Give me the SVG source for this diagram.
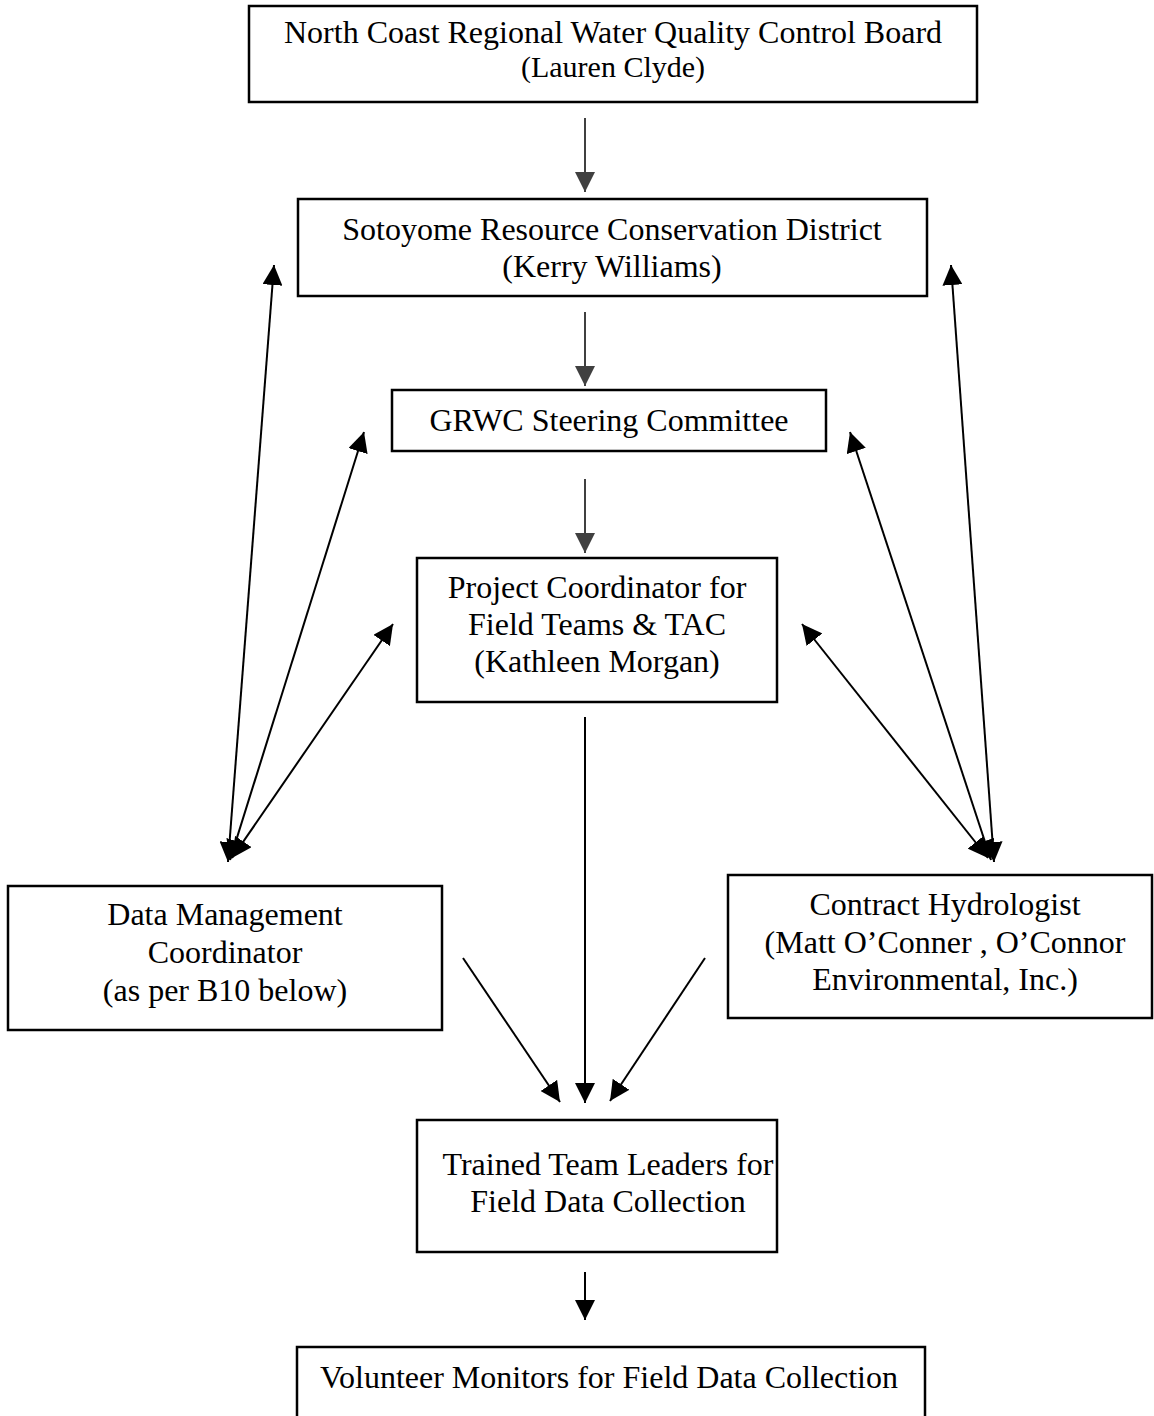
<svg xmlns="http://www.w3.org/2000/svg" width="1154" height="1416" viewBox="0 0 1154 1416">
<defs>
<style>
.box{fill:#fff;stroke:#000;stroke-width:2.5}
.t{font-family:"Liberation Serif","Times New Roman",serif;font-size:32px;fill:#000;text-anchor:middle}
.s{font-size:30px}
.c{stroke:#000;stroke-width:2;fill:none}
.g{stroke:#404040;stroke-width:2;fill:none}
</style>
<marker id="ah" viewBox="0 0 20 20" refX="20" refY="10" markerWidth="20" markerHeight="20" markerUnits="userSpaceOnUse" orient="auto-start-reverse"><path d="M0,0 L20,10 L0,20 z" fill="#000"/></marker>
<marker id="ahg" viewBox="0 0 20 20" refX="20" refY="10" markerWidth="20" markerHeight="20" markerUnits="userSpaceOnUse" orient="auto"><path d="M0,0 L20,10 L0,20 z" fill="#404040"/></marker>
</defs>
<rect width="1154" height="1416" fill="#fff"/>
<g id="connectors">
<line class="g" x1="585" y1="118" x2="585" y2="192" marker-end="url(#ahg)"/>
<line class="g" x1="585" y1="312" x2="585" y2="386" marker-end="url(#ahg)"/>
<line class="g" x1="585" y1="479" x2="585" y2="553" marker-end="url(#ahg)"/>
<line class="c" x1="228" y1="862" x2="274" y2="265" marker-start="url(#ah)" marker-end="url(#ah)"/>
<line class="c" x1="230" y1="860" x2="364" y2="432" marker-start="url(#ah)" marker-end="url(#ah)"/>
<line class="c" x1="232" y1="858" x2="393" y2="624" marker-start="url(#ah)" marker-end="url(#ah)"/>
<line class="c" x1="994" y1="862" x2="951" y2="265" marker-start="url(#ah)" marker-end="url(#ah)"/>
<line class="c" x1="991" y1="860" x2="850" y2="432" marker-start="url(#ah)" marker-end="url(#ah)"/>
<line class="c" x1="988" y1="858" x2="802" y2="624" marker-start="url(#ah)" marker-end="url(#ah)"/>
<line class="c" x1="585" y1="717" x2="585" y2="1103" marker-end="url(#ah)"/>
<line class="c" x1="463" y1="958" x2="560" y2="1102" marker-end="url(#ah)"/>
<line class="c" x1="705" y1="958" x2="610" y2="1101" marker-end="url(#ah)"/>
<line class="c" x1="585" y1="1272" x2="585" y2="1320" marker-end="url(#ah)"/>
</g>
<g id="ncrwqcb">
<rect class="box" x="249" y="6" width="728" height="96"/>
<text class="t" x="613" y="43">North Coast Regional Water Quality Control Board</text>
<text class="t s" x="613" y="77">(Lauren Clyde)</text>
</g>
<g id="sotoyome">
<rect class="box" x="298" y="199" width="629" height="97"/>
<text class="t" x="612" y="240">Sotoyome Resource Conservation District</text>
<text class="t" x="612" y="277">(Kerry Williams)</text>
</g>
<g id="grwc">
<rect class="box" x="392" y="390" width="434" height="61"/>
<text class="t" x="609" y="431">GRWC Steering Committee</text>
</g>
<g id="project-coordinator">
<rect class="box" x="417" y="558" width="360" height="144"/>
<text class="t" x="597" y="598">Project Coordinator for</text>
<text class="t" x="597" y="635">Field Teams &amp; TAC</text>
<text class="t" x="597" y="672">(Kathleen Morgan)</text>
</g>
<g id="data-management">
<rect class="box" x="8" y="886" width="434" height="144"/>
<text class="t" x="225" y="925">Data Management</text>
<text class="t" x="225" y="963">Coordinator</text>
<text class="t" x="225" y="1001">(as per B10 below)</text>
</g>
<g id="hydrologist">
<rect class="box" x="728" y="875" width="424" height="143"/>
<text class="t" x="945" y="915">Contract Hydrologist</text>
<text class="t" x="945" y="953">(Matt O’Conner , O’Connor</text>
<text class="t" x="945" y="990">Environmental, Inc.)</text>
</g>
<g id="team-leaders">
<rect class="box" x="417" y="1120" width="360" height="132"/>
<text class="t" x="608" y="1175">Trained Team Leaders for</text>
<text class="t" x="608" y="1212">Field Data Collection</text>
</g>
<g id="volunteers">
<rect class="box" x="297" y="1347" width="628" height="90"/>
<text class="t" x="609" y="1388">Volunteer Monitors for Field Data Collection</text>
</g>
</svg>
